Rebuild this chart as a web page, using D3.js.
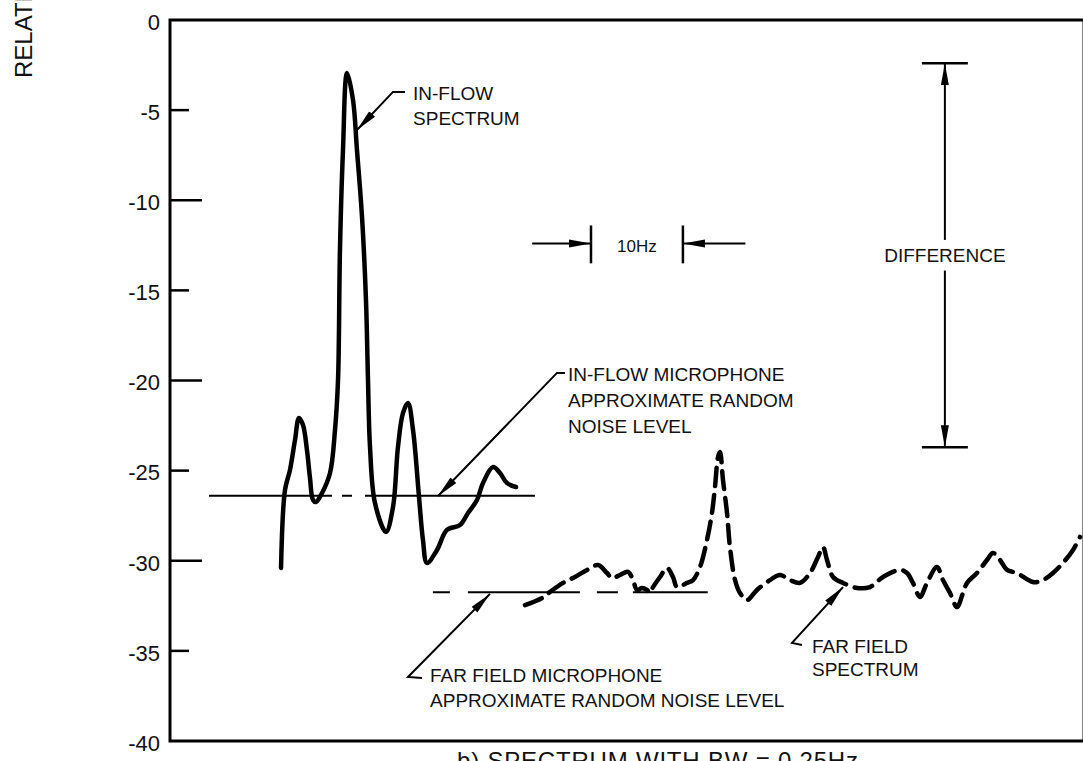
<!DOCTYPE html>
<html>
<head>
<meta charset="utf-8">
<script src="https://cdn.jsdelivr.net/npm/d3@7"></script>
<style>
  html, body { margin: 0; padding: 0; background: #fff; }
  svg { display: block; font-family: "Liberation Sans", Arial, Helvetica, sans-serif; }
</style>
</head>
<body>
<div id="graph"></div>
<script>
// Data (frequency in Hz from the left edge, level in dB)

// y axis tick labels
const yTicks = [0, -5, -10, -15, -20, -25, -30, -35, -40];

// in-flow spectrum (solid line)
const inflowFreq = [12.08, 12.51, 13.05, 13.60, 14.03, 14.47, 14.90, 15.23, 15.56, 15.88,
  16.54, 17.41, 17.95, 18.28, 18.49, 18.82, 19.26, 19.91, 20.34, 20.89,
  21.32, 21.54, 21.76, 22.30, 23.50, 24.26, 24.80, 25.35, 25.89, 26.44,
  27.09, 27.52, 27.96, 29.05, 30.13, 31.55, 32.42, 33.40, 34.05, 35.14,
  35.90, 36.66, 37.64];
const inflowLevel = [-30.40, -26.08, -24.97, -23.30, -22.08, -22.47, -23.86, -25.41, -26.63, -26.74,
  -26.24, -25.13, -22.75, -19.97, -12.76, -7.21, -2.94, -4.44, -7.21, -10.93,
  -15.53, -19.97, -23.69, -26.80, -28.40, -27.02, -23.69, -21.80, -21.25, -22.75,
  -26.46, -28.85, -30.12, -29.40, -28.29, -28.02, -27.35, -26.63, -25.69, -24.80,
  -25.13, -25.69, -25.91];

// far field spectrum (dashed line)
const farFreq = [38.62, 40.47, 41.34, 42.76, 44.06, 45.37, 46.56, 47.54, 48.09, 48.96,
  49.83, 50.37, 50.81, 51.35, 51.89, 52.22, 52.55, 53.31, 54.07, 54.72,
  55.16, 56.24, 56.90, 57.66, 58.42, 58.96, 59.29, 59.62, 59.83, 60.16,
  60.60, 60.92, 61.47, 62.01, 62.77, 63.86, 65.27, 66.36, 67.45, 68.54,
  69.63, 70.50, 71.04, 71.48, 72.13, 73.22, 74.74, 76.15, 77.57, 79.42,
  80.18, 80.83, 81.59, 82.35, 83.44, 84.09, 84.86, 85.62, 86.27, 86.71,
  87.79, 88.88, 89.53, 90.30, 91.06, 92.14, 93.88, 94.97, 96.06, 97.15,
  98.24, 99.00];
const farLevel = [-32.46, -32.07, -31.73, -31.23, -30.90, -30.51, -30.24, -30.68, -30.96, -30.79,
  -30.62, -31.07, -31.62, -31.51, -31.62, -31.79, -31.46, -30.90, -30.40, -30.90,
  -31.46, -31.23, -31.07, -30.35, -28.85, -27.35, -25.91, -24.24, -23.97, -25.52,
  -27.35, -29.24, -31.07, -31.79, -32.18, -31.62, -31.07, -30.79, -31.07, -31.23,
  -30.68, -29.79, -29.24, -29.96, -30.90, -31.23, -31.51, -31.46, -30.90, -30.51,
  -30.68, -31.23, -32.01, -31.23, -30.35, -31.07, -31.79, -32.57, -31.79, -31.23,
  -30.68, -29.96, -29.57, -29.96, -30.51, -30.68, -31.18, -31.07, -30.68, -30.12,
  -29.40, -28.68];

// approximate random noise levels [level, from Hz, to Hz]
const inflowNoise = [-26.4, 4.24, 39.7];
const farNoise = [-31.75, 28.6, 58.5];

// 10 Hz bandwidth marker [start Hz, width Hz, level]
const tenHz = [45.8, 10, -12.4];

// difference marker [Hz, top level, bottom level]
const difference = [84.3, -2.4, -23.7];

//---------------------------------------------------------------------------------------

const width = 1083;
const height = 761;

const svg = d3.select("#graph")
  .append("svg")
  .attr("width", width)
  .attr("height", height)
  .attr("viewBox", [0, 0, width, height]);

const x = d3.scaleLinear().domain([0, 99]).range([170, 1080]);
const y = d3.scaleLinear().domain([-40, 0]).range([741, 20]);

// arrow heads
const defs = svg.append("defs");
defs.append("marker")
  .attr("id", "head")
  .attr("markerUnits", "userSpaceOnUse")
  .attr("viewBox", "0 0 22 9")
  .attr("markerWidth", 22)
  .attr("markerHeight", 9)
  .attr("refX", 22)
  .attr("refY", 4.5)
  .attr("orient", "auto")
  .append("path")
  .attr("d", "M0,0.5 L22,4.5 L0,8.5 Z")
  .attr("fill", "#000");

//---------------------------------------------------------------------------------------

// frame
svg.append("rect")
  .attr("x", x(0))
  .attr("y", y(0))
  .attr("width", x(99) - x(0) + 4)
  .attr("height", y(-40) - y(0))
  .attr("fill", "none")
  .attr("stroke", "#000")
  .attr("stroke-width", 3);

// tick labels (plain hyphen as in the picture)
const yAxis = svg.append("g")
  .attr("transform", `translate(${x(0)},0)`)
  .call(d3.axisLeft(y).tickValues(yTicks).tickSize(0).tickPadding(10).tickFormat(d => String(d)));
yAxis.select(".domain").remove();
yAxis.selectAll("text")
  .attr("font-size", "22px")
  .attr("font-family", "'Liberation Sans', Arial, sans-serif")
  .attr("dy", "0.42em")
  .attr("fill", "#111");

// inner ticks, long on the tens
svg.append("g")
  .selectAll("line")
  .data(yTicks.filter(d => d !== 0 && d !== -40))
  .join("line")
  .attr("x1", x(0))
  .attr("x2", d => x(0) + (d % 10 === 0 ? 32 : 19))
  .attr("y1", d => y(d))
  .attr("y2", d => y(d))
  .attr("stroke", "#000")
  .attr("stroke-width", 2.5);

// y axis title, cut by the edge of the page as in the picture
svg.append("text")
  .attr("transform", `translate(32, 78) rotate(-90)`)
  .attr("font-size", "24px")
  .attr("fill", "#111")
  .text("RELATIVE AMPLITUDE, dB");

//---------------------------------------------------------------------------------------

// noise levels
svg.append("line")
  .attr("x1", x(inflowNoise[1])).attr("x2", x(inflowNoise[2]))
  .attr("y1", y(inflowNoise[0])).attr("y2", y(inflowNoise[0]))
  .attr("stroke", "#000").attr("stroke-width", 2)
  .attr("stroke-dasharray", "123,10,10,13,400");

svg.append("line")
  .attr("x1", x(farNoise[1])).attr("x2", x(farNoise[2]))
  .attr("y1", y(farNoise[0])).attr("y2", y(farNoise[0]))
  .attr("stroke", "#000").attr("stroke-width", 2)
  .attr("stroke-dasharray", "17,18,112,17,21,15,300");

// spectra
const line = d3.line()
  .x(d => x(d[0]))
  .y(d => y(d[1]))
  .curve(d3.curveCatmullRom.alpha(0.5));

svg.append("path")
  .attr("d", line(d3.zip(inflowFreq, inflowLevel)))
  .attr("fill", "none")
  .attr("stroke", "#000")
  .attr("stroke-width", 4.5)
  .attr("stroke-linejoin", "round")
  .attr("stroke-linecap", "round");

svg.append("path")
  .attr("d", line(d3.zip(farFreq, farLevel)))
  .attr("fill", "none")
  .attr("stroke", "#000")
  .attr("stroke-width", 4.5)
  .attr("stroke-dasharray", "18,9")
  .attr("stroke-linecap", "round");

//---------------------------------------------------------------------------------------

// annotations
const label = (lines, f, v, lh) => {
  const t = svg.append("text")
    .attr("x", x(f))
    .attr("y", y(v))
    .attr("font-size", "19px")
    .attr("fill", "#111");
  lines.forEach((s, i) => t.append("tspan").attr("x", x(f)).attr("dy", i ? lh : 0).text(s));
};

const arrow = (pts) => {
  svg.append("path")
    .attr("d", d3.line().x(d => x(d[0])).y(d => y(d[1]))(pts))
    .attr("fill", "none")
    .attr("stroke", "#000")
    .attr("stroke-width", 2)
    .attr("marker-end", "url(#head)");
};

label(["IN-FLOW", "SPECTRUM"], 26.44, -4.44, 25);
arrow([[25.57, -3.99], [24.26, -3.99], [20.34, -6.10]]);

label(["IN-FLOW MICROPHONE", "APPROXIMATE RANDOM", "NOISE LEVEL"], 43.3, -20.03, 26);
arrow([[42.97, -19.58], [42.10, -19.58], [29.16, -26.41]]);

label(["FAR FIELD MICROPHONE", "APPROXIMATE RANDOM NOISE LEVEL"], 28.29, -36.73, 25);
arrow([[27.41, -36.51], [25.89, -36.45], [34.81, -31.84]]);

label(["FAR FIELD", "SPECTRUM"], 69.84, -35.12, 23);
arrow([[68.75, -34.67], [67.67, -34.56], [73.22, -31.46]]);

// 10 Hz marker
const [hzStart, hzWidth, hzLevel] = tenHz;
svg.append("g")
  .selectAll("line")
  .data([hzStart, hzStart + hzWidth])
  .join("line")
  .attr("x1", d => x(d)).attr("x2", d => x(d))
  .attr("y1", y(hzLevel + 1.0)).attr("y2", y(hzLevel - 1.1))
  .attr("stroke", "#000").attr("stroke-width", 2.5);
arrow([[hzStart - 6.4, hzLevel], [hzStart, hzLevel]]);
arrow([[hzStart + hzWidth + 6.8, hzLevel], [hzStart + hzWidth, hzLevel]]);
svg.append("text")
  .attr("x", x(hzStart + hzWidth / 2))
  .attr("y", y(hzLevel - 0.45))
  .attr("text-anchor", "middle")
  .attr("font-size", "17px")
  .attr("fill", "#111")
  .text("10Hz");

// difference marker
const [dFreq, dTop, dBottom] = difference;
svg.append("g")
  .selectAll("line")
  .data([dTop, dBottom])
  .join("line")
  .attr("x1", x(dFreq - 2.5)).attr("x2", x(dFreq + 2.5))
  .attr("y1", d => y(d)).attr("y2", d => y(d))
  .attr("stroke", "#000").attr("stroke-width", 2.5);
arrow([[dFreq, -12.2], [dFreq, dTop]]);
arrow([[dFreq, -13.9], [dFreq, dBottom]]);
svg.append("text")
  .attr("x", x(dFreq))
  .attr("y", y(-13.43))
  .attr("text-anchor", "middle")
  .attr("font-size", "19px")
  .attr("fill", "#111")
  .text("DIFFERENCE");

// caption, cut by the bottom of the page as in the picture
svg.append("text")
  .attr("x", 457)
  .attr("y", 769)
  .attr("font-size", "24px")
  .attr("letter-spacing", "0.8px")
  .attr("fill", "#111")
  .text("b)  SPECTRUM WITH BW = 0.25Hz");
</script>
</body>
</html>
